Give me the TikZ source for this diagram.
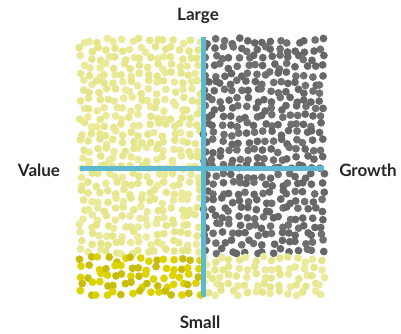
\documentclass[tikz,border=0pt]{standalone}
\usepackage{fontspec}
\setmainfont{Lato}
\definecolor{axisblue}{HTML}{5CB9D0}
\definecolor{paleyellow}{HTML}{E6E68C}
\definecolor{paleyellowb}{HTML}{EAEA9A}
\definecolor{deepyellow}{HTML}{DCD300}
\definecolor{deepyellowb}{HTML}{C9BD0C}
\definecolor{dotgray}{HTML}{676767}
\definecolor{dotgrayb}{HTML}{707070}
\definecolor{labelgray}{HTML}{262626}
\begin{document}
\begin{tikzpicture}[x=1pt,y=-1pt,
  quadlabel/.style={text=labelgray, font=\bfseries\fontsize{17}{20}\selectfont, inner sep=0pt},
  axis/.style={axisblue, line width=5pt}]
\useasboundingbox (0,0) rectangle (401,333);
\pgfmathsetseed{4217}
% dots on a jittered grid
\foreach \i in {0,...,29}{
  \foreach \j in {0,...,30}{
    \pgfmathsetmacro{\px}{82+\i*8.27+2.9*rand}
    \pgfmathsetmacro{\py}{41+\j*8.4+2.9*rand}
    \pgfmathsetmacro{\pick}{rnd}
    \ifdim\py pt>254pt
      \ifdim\px pt<203pt
        \ifdim\pick pt<0.65pt \def\dotcol{deepyellow}\else\def\dotcol{deepyellowb}\fi
      \else
        \ifdim\pick pt<0.6pt \def\dotcol{paleyellow}\else\def\dotcol{paleyellowb}\fi
      \fi
    \else
      \ifdim\px pt<203pt
        \ifdim\pick pt<0.6pt \def\dotcol{paleyellow}\else\def\dotcol{paleyellowb}\fi
      \else
        \ifdim\pick pt<0.6pt \def\dotcol{dotgray}\else\def\dotcol{dotgrayb}\fi
      \fi
    \fi
    \fill[\dotcol] (\px,\py) circle (3.9pt);
  }}

\coordinate (top) at (203,37);
\coordinate (bottom) at (203,297);
\coordinate (left) at (80,168);
\coordinate (right) at (324,168);
\draw[axis] (top) -- (bottom);
\draw[axis] (left) -- (right);

\node[quadlabel] (large) at (198,16) {Large};
\node[quadlabel] (small) at (200,322) {Small};
\node[quadlabel] (value) at (39,170) {Value};
\node[quadlabel] (growth) at (368,170) {Growth};
\end{tikzpicture}
\end{document}
